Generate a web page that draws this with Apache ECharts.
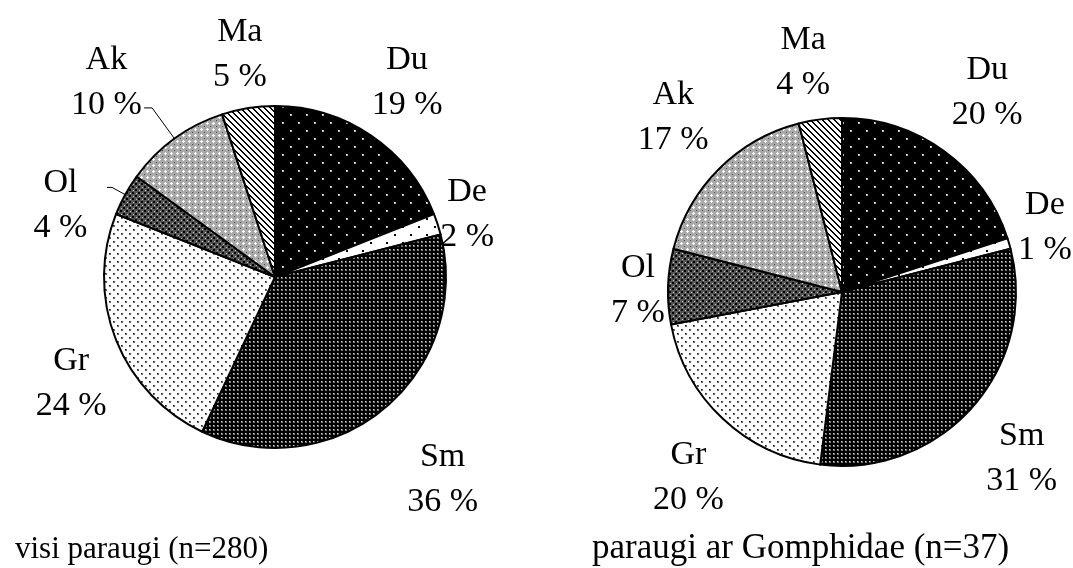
<!DOCTYPE html>
<html><head><meta charset="utf-8">
<script src="https://cdn.jsdelivr.net/npm/echarts@6/dist/echarts.min.js"></script>
<style>html,body{margin:0;padding:0;background:#fff}#c{width:1073px;height:568px}</style>
</head><body><div id="c"></div>
<script>
// ---- data ----
const categories = ['Du', 'De', 'Sm', 'Gr', 'Ol', 'Ak', 'Ma'];
const leftValues = [19, 2, 36, 24, 4, 10, 5];
const rightValues = [20, 1, 31, 20, 7, 17, 4];
const leftTitle = 'visi paraugi (n=280)';
const rightTitle = 'paraugi ar Gomphidae (n=37)';

// ---- layout (not data) ----
const leftCenter = [275, 277], rightCenter = [842, 292];
const leftR = 171, rightR = 174;
const leftLabelDist = [235, 202, 263, 230, 226, 257, 225];
const leftLabelTurn = [0, 0, 0, -6, -10.5, -5, 0];
const rightLabelDist = [247, 213, 245, 241, 204, 243, 233];
const rightLabelTurn = [0, -1.5, 1.4, -3.6, -1.5, 1, -2.4];
const FONT = 'Liberation Serif';

function pat(w, h, draw) {
  const c = document.createElement('canvas'); c.width = w; c.height = h;
  const g = c.getContext('2d'); draw(g, w, h);
  return { image: c, repeat: 'repeat' };
}
const patterns = [
  pat(16, 16, g => { g.fillStyle = '#000'; g.fillRect(0,0,16,16); g.fillStyle = '#bbb'; g.fillRect(2,2,2,2); g.fillRect(10,10,2,2); g.fillStyle='#fff'; g.fillRect(2,2,1,1); g.fillRect(10,10,1,1); }),
  pat(16, 16, g => { g.fillStyle = '#fff'; g.fillRect(0,0,16,16); g.fillStyle = '#000'; g.fillRect(2,2,2,2); g.fillRect(10,10,2,2); }),
  pat(4, 4, g => { g.fillStyle = '#000'; g.fillRect(0,0,4,4); g.fillStyle = '#777'; g.fillRect(1,1,2,2); g.fillStyle='#ccc'; g.fillRect(1,1,1,1); }),
  pat(8, 8, g => { g.fillStyle = '#fff'; g.fillRect(0,0,8,8); g.fillStyle = '#666'; g.fillRect(1,1,2,2); g.fillRect(5,5,2,2); g.fillStyle='#222'; g.fillRect(1,1,1,1); g.fillRect(5,5,1,1); }),
  pat(6, 6, g => { g.fillStyle = '#555'; g.fillRect(0,0,6,6); g.fillStyle = '#000'; g.fillRect(0,0,2,2); g.fillRect(3,3,2,2); g.fillStyle = '#ccc'; g.fillRect(4,1,1,1); g.fillRect(1,4,1,1); }),
  pat(6, 6, g => { g.fillStyle = '#aaa'; g.fillRect(0,0,6,6); g.fillStyle = '#fff'; g.fillRect(3,2,1,3); g.fillRect(2,3,3,1); g.fillStyle = '#444'; g.fillRect(0,0,1,1); }),
  pat(6, 6, g => { g.fillStyle = '#fff'; g.fillRect(0,0,6,6); g.fillStyle = '#000'; for (let i=0;i<6;i++){ g.fillRect(i,i,1,1); g.fillRect((i+1)%6,i,1,1);} })
];

function pieData(vals) {
  return categories.map((n, i) => ({ name: n, value: vals[i], itemStyle: { color: patterns[i] } }));
}
function ghostData(vals) {
  return categories.map((n, i) => ({ name: n, value: vals[i] }));
}
const textStyle = { fontFamily: FONT, fontSize: 34, color: '#000', lineHeight: 45 };

function mainSeries(vals, center, r, leaders) {
  return {
    type: 'pie', center: center, radius: [0, r], startAngle: 90, clockwise: true,
    silent: true, animation: false, avoidLabelOverlap: false,
    itemStyle: { borderColor: '#000', borderWidth: 2 },
    label: { show: false }, labelLine: { show: false },
    emphasis: { disabled: true },
    data: pieData(vals).map((d, i) => {
      if (leaders && leaders[i]) {
        d.label = { show: true, position: 'outside', formatter: ' ', fontSize: 2 };
        d.labelLine = { show: true, length: leaders[i][0], length2: leaders[i][1], lineStyle: { color: '#000', width: 1 } };
      }
      return d;
    })
  };
}
function ghostSeries(vals, center, dists, turns) {
  const base = 235;
  return {
    type: 'pie', center: center, radius: [base - 20, base + 20], startAngle: 90, clockwise: true,
    silent: true, animation: false, avoidLabelOverlap: false, z: 5,
    itemStyle: { color: 'rgba(0,0,0,0)', borderWidth: 0 },
    label: Object.assign({ show: true, position: 'inside', formatter: '{b}\n{c} %', align: 'center' }, textStyle),
    labelLine: { show: false },
    emphasis: { disabled: true },
    labelLayout: function (p) {
      const lr = p.labelRect;
      const cx = lr.x + lr.width / 2, cy = lr.y + lr.height / 2;
      let vx = cx - center[0], vy = cy - center[1];
      const len = Math.sqrt(vx * vx + vy * vy) || 1;
      const d = turns[p.dataIndex] * Math.PI / 180;
      const ux = (vx * Math.cos(d) - vy * Math.sin(d)) / len;
      const uy = (vx * Math.sin(d) + vy * Math.cos(d)) / len;
      const tx = center[0] + ux * dists[p.dataIndex], ty = center[1] + uy * dists[p.dataIndex];
      return { dx: tx - cx, dy: ty - cy, hideOverlap: false };
    },
    data: ghostData(vals)
  };
}

const chart = echarts.init(document.getElementById('c'), null, { renderer: 'canvas' });
chart.setOption({
  animation: false,
  backgroundColor: '#fff',
  title: [
    { text: leftTitle, left: 10, top: 529, textStyle: { fontFamily: FONT, fontSize: 31, fontWeight: 'normal', color: '#000' } },
    { text: rightTitle, left: 587, top: 526, textStyle: { fontFamily: FONT, fontSize: 35, fontWeight: 'normal', color: '#000' } }
  ],
  series: [
    mainSeries(leftValues, leftCenter, leftR, [null, null, null, null, [15, 5], [38, 8], null]),
    ghostSeries(leftValues, leftCenter, leftLabelDist, leftLabelTurn),
    mainSeries(rightValues, rightCenter, rightR, null),
    ghostSeries(rightValues, rightCenter, rightLabelDist, rightLabelTurn)
  ]
});
</script></body></html>
